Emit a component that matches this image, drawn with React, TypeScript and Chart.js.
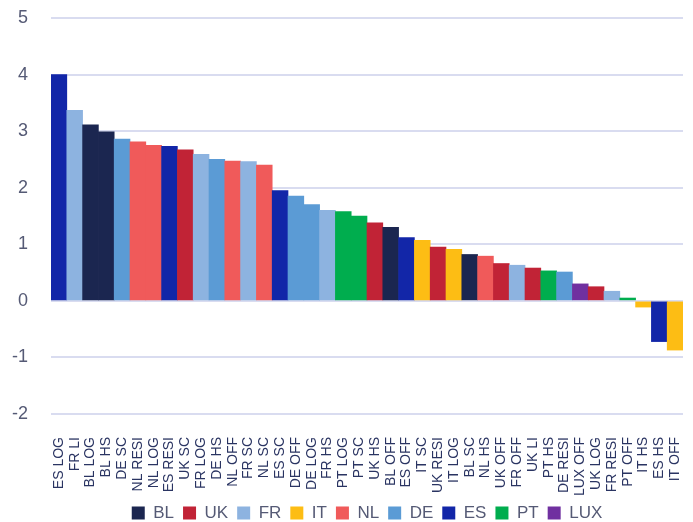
import React, { useEffect, useRef } from "react";
import { Chart, registerables } from "chart.js";

Chart.register(...registerables);

const categories = [
  "ES LOG", "FR LI", "BL LOG", "BL HS", "DE SC", "NL RESI", "NL LOG", "ES RESI", "UK SC", "FR LOG",
  "DE HS", "NL OFF", "FR SC", "NL SC", "ES SC", "DE OFF", "DE LOG", "FR HS", "PT LOG", "PT SC",
  "UK HS", "BL OFF", "ES OFF", "IT SC", "UK RESI", "IT LOG", "BL SC", "NL HS", "UK OFF", "FR OFF",
  "UK LI", "PT HS", "DE RESI", "LUX OFF", "UK LOG", "FR RESI", "PT OFF", "IT HS", "ES HS", "IT OFF",
];

const countries = [
  "ES", "FR", "BL", "BL", "DE", "NL", "NL", "ES", "UK", "FR",
  "DE", "NL", "FR", "NL", "ES", "DE", "DE", "FR", "PT", "PT",
  "UK", "BL", "ES", "IT", "UK", "IT", "BL", "NL", "UK", "FR",
  "UK", "PT", "DE", "LUX", "UK", "FR", "PT", "IT", "ES", "IT",
];

const values = [
  4.0, 3.37, 3.11, 2.99, 2.86, 2.81, 2.75, 2.73, 2.67, 2.59,
  2.5, 2.47, 2.46, 2.4, 1.95, 1.85, 1.7, 1.6, 1.58, 1.5,
  1.38, 1.3, 1.12, 1.07, 0.95, 0.91, 0.82, 0.79, 0.66, 0.63,
  0.58, 0.53, 0.51, 0.3, 0.25, 0.17, 0.05, -0.11, -0.72, -0.87,
];

const legendCountries = ["BL", "UK", "FR", "IT", "NL", "DE", "ES", "PT", "LUX"];
const countryColors = [
  "#1b2650", "#c12336", "#8db3e0", "#fdbd14", "#f05a5a", "#5b9bd5", "#1226a8", "#00ad4e", "#7030a0",
];

const yTicks = [5, 4, 3, 2, 1, 0, -1, -2];

const FONT = "'Liberation Sans', sans-serif";

function colorOf(c: string): string {
  return countryColors[legendCountries.indexOf(c)];
}

export default function App() {
  const ref = useRef<HTMLCanvasElement | null>(null);
  useEffect(() => {
    document.body.style.margin = "0";
    if (!ref.current) return;
    const chart = new Chart(ref.current, {
      type: "bar",
      data: {
        labels: categories,
        datasets: [
          {
            data: values,
            backgroundColor: countries.map(colorOf),
            barPercentage: 1,
            categoryPercentage: 1,
          },
        ],
      },
      options: {
        animation: false,
        responsive: true,
        maintainAspectRatio: false,
        layout: { padding: { top: 18, right: 10, left: 0, bottom: -9.5 } },
        plugins: {
          tooltip: { enabled: false },
          legend: {
            position: "bottom",
            fullSize: false,
            labels: {
              font: { family: FONT, size: 17 },
              color: "#555a75",
              boxWidth: 13,
              boxHeight: 13,
              padding: 9,
              generateLabels: () =>
                legendCountries.map((c, i) => ({
                  text: c,
                  fillStyle: countryColors[i],
                  strokeStyle: countryColors[i],
                  lineWidth: 0,
                  hidden: false,
                  index: i,
                  fontColor: "#555a75",
                })),
            },
          },
        },
        scales: {
          x: {
            grid: { display: false },
            border: { display: false },
            afterFit: (s: any) => {
              s.paddingLeft = -100;
              s.paddingRight = -100;
              s.paddingTop = -100;
              s.paddingBottom = -100;
              s.height = 81.5;
            },
            ticks: {
              autoSkip: false,
              minRotation: 90,
              maxRotation: 90,
              padding: 15,
              color: "#2a3462",
              font: { family: FONT, size: 14 },
            },
          },
          y: {
            min: -2,
            max: 5,
            afterBuildTicks: (axis: any) => {
              axis.ticks = yTicks.map((v) => ({ value: v }));
            },
            afterFit: (s: any) => {
              s.paddingTop = -100;
              s.paddingBottom = -100;
              s.paddingLeft = -100;
              s.paddingRight = -100;
              s.width = 51;
            },
            grid: { color: "#d9dcf0", lineWidth: 2, drawTicks: false },
            border: { display: false },
            ticks: {
              padding: 23,
              color: "#555a75",
              font: { family: FONT, size: 18 },
            },
          },
        },
      },
    });
    return () => chart.destroy();
  }, []);
  return (
    <div style={{ width: 693, height: 522, position: "relative" }}>
      <canvas ref={ref} />
    </div>
  );
}
